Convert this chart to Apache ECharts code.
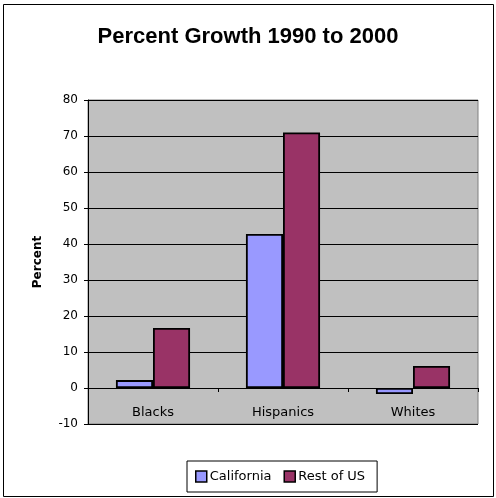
<!DOCTYPE html>
<html><head><meta charset="utf-8">
<script src="https://cdn.jsdelivr.net/npm/echarts@6/dist/echarts.min.js"></script>
<style>html,body{margin:0;padding:0;background:#fff}#c{width:496px;height:498px}</style>
</head><body><div id="c"></div>
<script>
const categories = ["Blacks", "Hispanics", "Whites"];
const california = [2.2, 42.8, -1.7];
const restOfUS = [16.7, 71.0, 6.1];
const seriesNames = ["California", "Rest of US"];
const yTicks = { min: -10, max: 80, interval: 10 };

const chart = echarts.init(document.getElementById('c'), null, { renderer: 'canvas' });
const font = '"DejaVu Sans", sans-serif';
chart.setOption({
  animation: false,
  backgroundColor: '#fff',
  textStyle: { fontFamily: font },
  title: {
    text: 'Percent Growth 1990 to 2000',
    left: 'center', top: 21,
    textStyle: { fontSize: 22, fontWeight: 'bold', color: '#000', fontFamily: '"Liberation Sans", Arial, sans-serif' }
  },
  graphic: [{
    type: 'rect', shape: { x: 3.5, y: 4.5, width: 490, height: 492 },
    style: { fill: 'none', stroke: '#000', lineWidth: 1 }, silent: true, z: -1
  }],
  legend: {
    data: seriesNames,
    left: 187, top: 461,
    padding: [9, 12, 9, 8],
    borderColor: '#000', borderWidth: 1,
    itemWidth: 11, itemHeight: 11, itemGap: 12,
    icon: 'rect',
    textStyle: { fontSize: 13, color: '#000', fontFamily: font, padding: [0, 0, 0, -2] },
    itemStyle: { borderColor: '#000', borderWidth: 1.5 }
  },
  grid: {
    left: 88, top: 100, right: 18, bottom: 74,
    show: true, backgroundColor: '#c0c0c0', borderColor: '#808080', borderWidth: 1
  },
  xAxis: {
    type: 'category', data: categories,
    axisLine: { onZero: true, lineStyle: { color: '#000', width: 1 } },
    axisTick: { show: true, alignWithLabel: false, inside: false, length: 4, lineStyle: { color: '#000' } },
    axisLabel: { color: '#000', fontSize: 13, margin: -18, fontFamily: font },
    splitLine: { show: false }
  },
  yAxis: {
    type: 'value', min: yTicks.min, max: yTicks.max, interval: yTicks.interval,
    name: 'Percent', nameLocation: 'middle', nameGap: 44, nameRotate: 90,
    nameTextStyle: { fontSize: 12, fontWeight: 'bold', color: '#000', fontFamily: font },
    axisLine: { show: true, lineStyle: { color: '#000', width: 1 } },
    axisTick: { show: true, length: 4, lineStyle: { color: '#000' } },
    axisLabel: { color: '#000', fontSize: 12, margin: 10, fontFamily: font },
    splitLine: { show: true, lineStyle: { color: '#000', width: 1 } }
  },
  series: [
    { name: seriesNames[0], type: 'bar', data: california, barGap: '0%', barCategoryGap: '43%',
      itemStyle: { color: '#9999ff', borderColor: '#000', borderWidth: 1.8 } },
    { name: seriesNames[1], type: 'bar', data: restOfUS, barGap: '0%', barCategoryGap: '43%',
      itemStyle: { color: '#993366', borderColor: '#000', borderWidth: 1.8 } }
  ]
});
</script></body></html>
